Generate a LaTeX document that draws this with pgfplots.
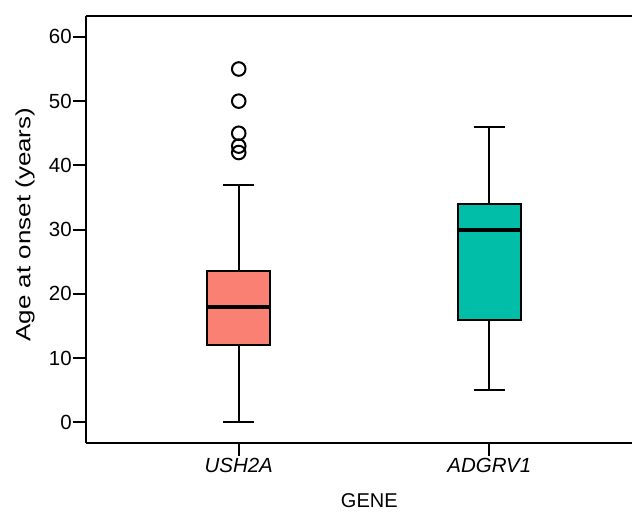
\documentclass[border=0pt]{standalone}
\usepackage{fontspec}
\setmainfont{Liberation Sans}
\usepackage{graphicx}
\usepackage{pgfplots}
\pgfplotsset{compat=1.18}
\usepgfplotslibrary{statistics}
\definecolor{ushfill}{RGB}{249,128,114}
\definecolor{adgfill}{RGB}{0,190,167}

\begin{document}
\fontsize{20bp}{24bp}\selectfont
\begin{tikzpicture}
\begin{axis}[
  scale only axis, width=547bp, height=428bp,
  xmin=-0.61, xmax=1.569, ymin=-3.2, ymax=63.3,
  axis x line=box, axis y line=left, axis line style={-, line width=2.1bp},
  xtick={0,1}, xticklabels={\textit{USH2A},\textit{ADGRV1}},
  ytick={0,10,...,60},
  xtick pos=bottom, ytick pos=left,
  tick align=outside, major tick length=13bp,
  tick style={line width=2.1bp, black},
  /pgf/number format/assume math mode=true,
  tick label style={font=\fontsize{20.5bp}{24bp}\selectfont},
  yticklabel style={inner sep=1bp},
  xticklabel style={inner sep=2bp},
  label style={font=\fontsize{20bp}{24bp}\selectfont},
  xlabel={GENE}, ylabel={\scalebox{1.3}[1.03]{Age at onset (years)}},
  xlabel style={at={(axis description cs:0.519,-0.134)}, anchor=center},
  ylabel style={at={(axis description cs:-0.1115,0.511)}, anchor=center},
  boxplot/draw direction=y,
  boxplot/every median/.style={line width=4.2bp},
]
\addplot[draw=black, line width=2.1bp, fill=ushfill, mark=o, mark size=6.8bp,
  mark options={line width=2bp, fill=none},
  boxplot prepared={draw direction=y, draw position=0,
    lower whisker=0, lower quartile=12,
    median=18, upper quartile=23.5, upper whisker=37,
    box extend=0.25, whisker extend=0.125}]
  table[row sep=\\, y index=0] {age\\ 55\\ 50\\ 45\\ 43\\ 42\\};
\addplot[draw=black, line width=2.1bp, fill=adgfill,
  boxplot prepared={draw direction=y, draw position=1,
    lower whisker=5, lower quartile=16,
    median=30, upper quartile=34, upper whisker=46,
    box extend=0.25, whisker extend=0.125}]
  coordinates {};
\end{axis}
\path (current axis.south west) ++(-86bp,-66.3bp);
\path (current axis.north east) ++(0,15.7bp);
\end{tikzpicture}
\end{document}
